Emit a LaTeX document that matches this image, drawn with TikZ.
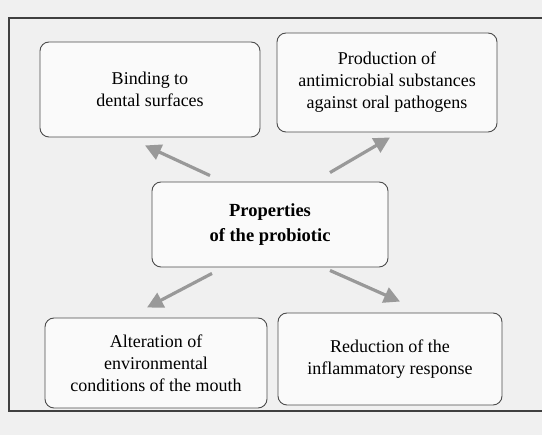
\documentclass[tikz,border=0pt]{standalone}
\usepackage{fontspec}
\setmainfont{Liberation Serif}
\usetikzlibrary{arrows.meta}
\tikzset{
  box/.style={draw=black!70, line width=0.9pt, rounded corners=9pt, fill=black!2,
    align=center, inner sep=0pt, font=\fontsize{18}{22}\selectfont},
  mainbox/.style={box, font=\fontsize{18.5}{25}\selectfont\bfseries},
  arr/.style={draw=black!40, line width=3.2pt, -{Triangle[length=16pt,width=16pt]}},
  frame/.style={draw=black!75, line width=1.6pt}
}
\begin{document}
\begin{tikzpicture}[x=1pt,y=-1pt]
\useasboundingbox[fill=black!6] (0,0) rectangle (542,435);
\draw[frame] (545,18) -- (9,18) -- (9,411) -- (545,411);
\node[box, minimum width=220pt, minimum height=95pt] (tl) at (150,89.5) {Binding to\\dental surfaces};
\node[box, minimum width=220pt, minimum height=99pt] (tr) at (387,82.5) {Production of\\antimicrobial substances\\against oral pathogens};
\node[mainbox, minimum width=236pt, minimum height=85pt] (c) at (270,224.5) {Properties\\of the probiotic};
\node[box, minimum width=222pt, minimum height=90pt] (bl) at (156,363) {Alteration of\\environmental\\conditions of the mouth};
\node[box, minimum width=224pt, minimum height=92pt] (br) at (390,359) {Reduction of the\\inflammatory response};
\draw[arr] ([shift={(-60,-6)}]c.north) -- ([shift={(-5,8)}]tl.south);
\draw[arr] ([shift={(60,-9)}]c.north) -- ([shift={(3,5)}]tr.south);
\draw[arr] ([shift={(-58,6)}]c.south) -- ([shift={(-9,-10)}]bl.north);
\draw[arr] ([shift={(60,3)}]c.south) -- ([shift={(10,-11)}]br.north);
\end{tikzpicture}
\end{document}
